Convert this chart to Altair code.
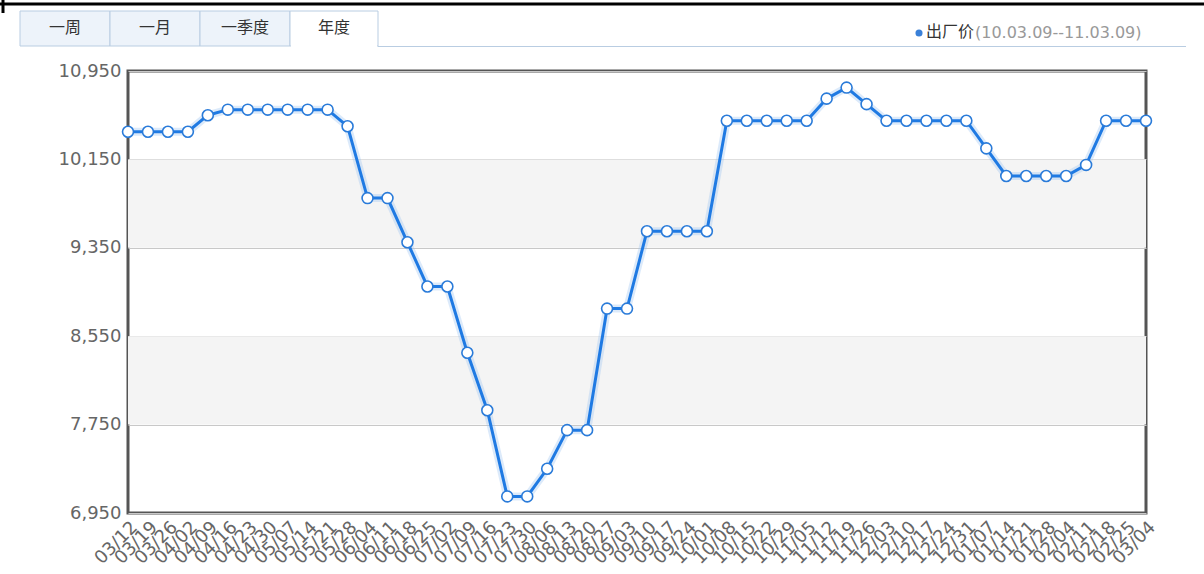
import altair as alt
import pandas as pd

dates = ["03/12", "03/19", "03/26", "04/02", "04/09", "04/16", "04/23", "04/30",
         "05/07", "05/14", "05/21", "05/28", "06/04", "06/11", "06/18", "06/25",
         "07/02", "07/09", "07/16", "07/23", "07/30", "08/06", "08/13", "08/20",
         "08/27", "09/03", "09/10", "09/17", "09/24", "10/01", "10/08", "10/15",
         "10/22", "10/29", "11/05", "11/12", "11/19", "11/26", "12/03", "12/10",
         "12/17", "12/24", "12/31", "01/07", "01/14", "01/21", "01/28", "02/04",
         "02/11", "02/18", "02/25", "03/04"]
prices = [10400, 10400, 10400, 10400, 10550, 10600, 10600, 10600, 10600, 10600,
          10600, 10450, 9800, 9800, 9400, 9000, 9000, 8400, 7880, 7100,
          7100, 7350, 7700, 7700, 8800, 8800, 9500, 9500, 9500, 9500,
          10500, 10500, 10500, 10500, 10500, 10700, 10800, 10650, 10500, 10500,
          10500, 10500, 10500, 10250, 10000, 10000, 10000, 10000, 10100, 10500,
          10500, 10500]
y_ticks = [6950, 7750, 8550, 9350, 10150, 10950]
band_lo = [9350, 7750]
band_hi = [10150, 8550]
tabs = ["一周", "一月", "一季度", "年度"]
series_name = "出厂价"
range_text = "(10.03.09--11.03.09)"

df = pd.DataFrame({"date": dates, "price": prices})
bands = pd.DataFrame({"lo": band_lo, "hi": band_hi})
one = pd.DataFrame({"k": [0]})

W, H = 1018, 442
PL, PT = 128, 71

yscale = alt.Scale(domain=[6950, 10950], nice=False, zero=False)
xscale = alt.Scale(type="point", padding=0)

yaxis = alt.Axis(values=y_ticks, format=",.0f", labelFontSize=18,
                 labelColor="#666666", labelFont="DejaVu Sans",
                 ticks=False, domain=False, labelPadding=7,
                 grid=True, gridColor="#c8c8c8", gridWidth=1)

base = alt.Chart(df).encode(
    x=alt.X("date:O", sort=None, scale=xscale, title=None,
            axis=alt.Axis(labelAngle=-45, labelFontSize=18, labelColor="#666666",
                          labelFont="DejaVu Sans", ticks=False, domain=False,
                          labelPadding=5, labelOverlap=False, grid=False)),
    y=alt.Y("price:Q", scale=yscale, title=None, axis=yaxis),
)

band_layer = alt.Chart(bands).mark_rect(color="#f4f4f4").encode(
    y=alt.Y("lo:Q", scale=yscale, title=None, axis=yaxis),
    y2="hi:Q",
    x=alt.value(0), x2=alt.value(W),
)

glow = base.mark_line(color="#9cc4f0", strokeWidth=8, opacity=0.35)
line = base.mark_line(color="#1f7ae3", strokeWidth=3)
pts = base.mark_point(shape="circle", filled=True, fill="white", stroke="#2a7bd9",
                      strokeWidth=1.6, size=120, opacity=1)

deco = []
tab_x = [20, 110, 200, 290, 378]
for i, t in enumerate(tabs):
    active = i == 3
    deco.append(alt.Chart(one).mark_rect(
        fill="white" if active else "#edf3fa", stroke="#b9cde2", strokeWidth=1
    ).encode(x=alt.value(tab_x[i] - PL), x2=alt.value(tab_x[i + 1] - PL),
             y=alt.value(11 - PT), y2=alt.value(46 - PT)))
    deco.append(alt.Chart(one).mark_text(
        text=t, font="Noto Sans CJK SC", fontSize=16, color="#333333",
        fontWeight="normal", align="center", baseline="middle"
    ).encode(x=alt.value((tab_x[i] + tab_x[i + 1]) / 2 - PL), y=alt.value(28 - PT)))
deco.append(alt.Chart(one).mark_rule(color="white", strokeWidth=2).encode(
    x=alt.value(291 - PL), x2=alt.value(377 - PL), y=alt.value(46 - PT)))
deco.append(alt.Chart(one).mark_rule(color="#b9cde2", strokeWidth=1).encode(
    x=alt.value(378 - PL), x2=alt.value(1186 - PL), y=alt.value(46.5 - PT)))
deco.append(alt.Chart(one).mark_rule(color="black", strokeWidth=3).encode(
    x=alt.value(-PL), x2=alt.value(1204 - PL), y=alt.value(4 - PT)))
deco.append(alt.Chart(one).mark_rule(color="black", strokeWidth=3).encode(
    x=alt.value(3 - PL), y=alt.value(-PT), y2=alt.value(13 - PT)))
deco.append(alt.Chart(one).mark_point(shape="circle", filled=True, color="#3a80d8",
                                      size=50, opacity=1).encode(
    x=alt.value(919 - PL), y=alt.value(33 - PT)))
deco.append(alt.Chart(one).mark_text(
    text=series_name, font="Noto Sans CJK SC", fontSize=16, color="#333333",
    fontWeight="normal", align="left", baseline="middle"
).encode(x=alt.value(926 - PL), y=alt.value(32 - PT)))
deco.append(alt.Chart(one).mark_text(
    text=range_text, font="DejaVu Sans", fontSize=16, color="#999999",
    fontWeight="normal", align="left", baseline="middle"
).encode(x=alt.value(975 - PL), y=alt.value(33 - PT)))

chart = alt.layer(band_layer, glow, line, pts, *deco).properties(
    width=W, height=H,
    padding={"left": PL, "top": PT, "right": 1204 - PL - W, "bottom": 574 - PT - H},
    autosize=alt.AutoSizeParams(type="none"),
    background="white",
).configure_view(stroke="#555555", strokeWidth=3)

chart.save("out.html", embed_options={"renderer": "svg", "actions": False})
